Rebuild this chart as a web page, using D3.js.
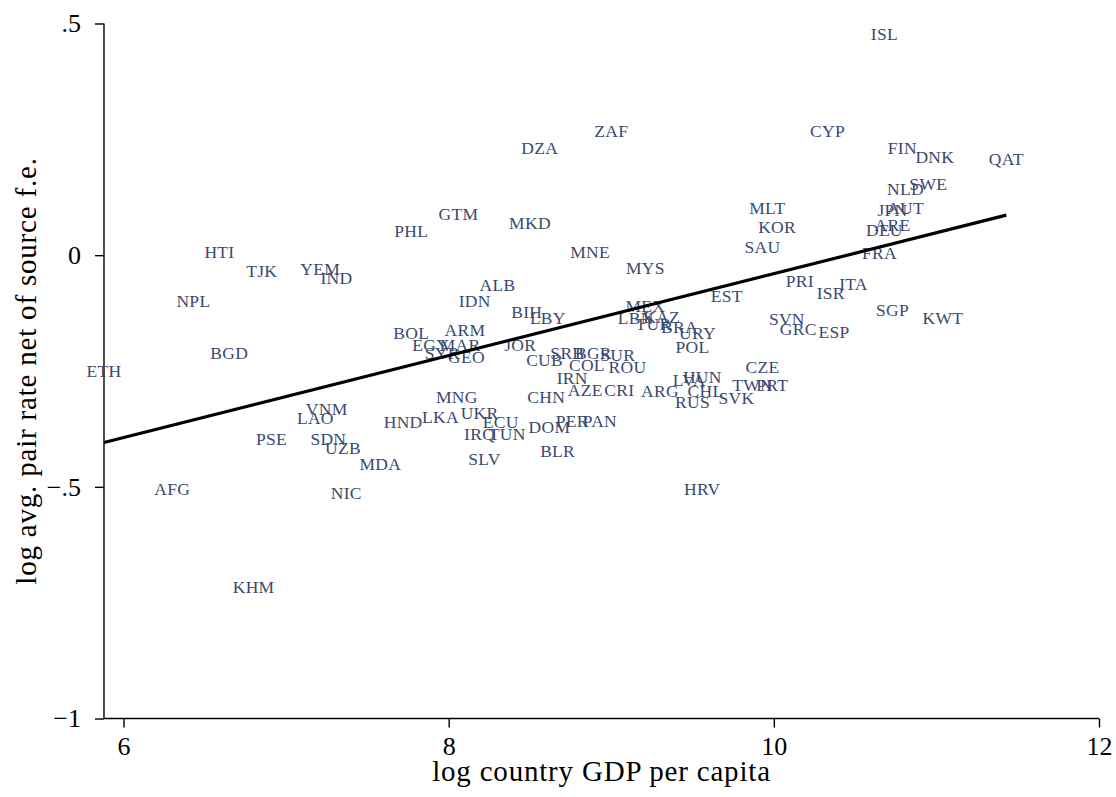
<!DOCTYPE html>
<html>
<head>
<meta charset="utf-8">
<script src="https://cdn.jsdelivr.net/npm/d3@7"></script>
<style>
  html, body { margin: 0; padding: 0; background: #fff; }
  svg { display: block; }
</style>
</head>
<body>
<svg id="chart"></svg>
<script>
// country codes and their values
const codes = [
  "ISL","ZAF","CYP","DZA","FIN","DNK","QAT","SWE","NLD","GTM",
  "MKD","MLT","JPN","AUT","KOR","ARE","DEU","PHL","SAU","FRA",
  "MNE","HTI","TJK","YEM","IND","MYS","ALB","PRI","ITA","ISR",
  "EST","NPL","IDN","MEX","SGP","BIH","LBY","LBN","KAZ","TUR",
  "BRA","SVN","KWT","URY","GRC","ESP","BOL","ARM","POL","JOR",
  "EGY","MAR","SYR","GEO","BGD","CUB","SRB","BGR","SUR","COL",
  "ROU","IRN","ETH","CZE","HUN","LVA","MNG","CHN","AZE","CRI",
  "ARG","CHL","RUS","SVK","TWN","PRT","HND","LKA","UKR","ECU",
  "DOM","PER","PAN","IRQ","TUN","SLV","BLR","VNM","LAO","PSE",
  "SDN","UZB","MDA","AFG","NIC","HRV","KHM"
];
const logGdp = [
  10.68, 9.00, 10.33, 8.56, 10.79, 10.99, 11.43, 10.95, 10.81, 8.06,
  8.50, 9.96, 10.73, 10.81, 10.02, 10.73, 10.68, 7.77, 9.93, 10.65,
  8.87, 6.59, 6.85, 7.21, 7.31, 9.21, 8.30, 10.16, 10.49, 10.35,
  9.71, 6.43, 8.16, 9.21, 10.73, 8.48, 8.61, 9.15, 9.31, 9.26,
  9.42, 10.08, 11.04, 9.53, 10.15, 10.37, 7.77, 8.10, 9.50, 8.44,
  7.89, 8.07, 7.96, 8.11, 6.65, 8.59, 8.73, 8.89, 9.04, 8.85,
  9.10, 8.76, 5.88, 9.93, 9.56, 9.48, 8.05, 8.60, 8.84, 9.05,
  9.30, 9.58, 9.50, 9.77, 9.87, 9.99, 7.72, 7.95, 8.19, 8.32,
  8.62, 8.76, 8.93, 8.19, 8.36, 8.22, 8.67, 7.25, 7.18, 6.91,
  7.26, 7.35, 7.58, 6.30, 7.37, 9.56, 6.80
];
const logRate = [
  0.477, 0.268, 0.268, 0.231, 0.231, 0.212, 0.208, 0.154, 0.143, 0.089,
  0.070, 0.102, 0.098, 0.102, 0.061, 0.065, 0.054, 0.052, 0.018, 0.005,
  0.007, 0.007, -0.034, -0.030, -0.049, -0.028, -0.064, -0.056, -0.062, -0.082,
  -0.088, -0.099, -0.099, -0.110, -0.118, -0.123, -0.136, -0.136, -0.134, -0.149,
  -0.155, -0.138, -0.136, -0.168, -0.159, -0.166, -0.168, -0.161, -0.198, -0.194,
  -0.194, -0.194, -0.211, -0.220, -0.211, -0.226, -0.211, -0.211, -0.216, -0.237,
  -0.241, -0.265, -0.250, -0.241, -0.263, -0.269, -0.306, -0.306, -0.291, -0.291,
  -0.293, -0.293, -0.317, -0.309, -0.280, -0.280, -0.360, -0.349, -0.341, -0.360,
  -0.371, -0.358, -0.358, -0.386, -0.386, -0.440, -0.423, -0.332, -0.351, -0.397,
  -0.397, -0.416, -0.451, -0.505, -0.513, -0.505, -0.716
];

// linear fit
const fitIntercept = -0.924;
const fitSlope = 0.0884;

const xTicks = [6, 8, 10, 12];
const yTicks = [-1, -0.5, 0, 0.5];
const xTitle = "log country GDP per capita";
const yTitle = "log avg. pair rate net of source f.e.";

const width = 1116;
const height = 797;
const serif = "'Liberation Serif', 'DejaVu Serif', serif";
const labelColor = "#3a4a6e";

const svg = d3.select("#chart").attr("width", width).attr("height", height);

const points = codes.map((code, i) => ({ code, x: logGdp[i], y: logRate[i] }));
const xMin = d3.min(points, (d) => d.x);
const xMax = d3.max(points, (d) => d.x);

const x = d3.scaleLinear().domain([6, 12]).range([123.5, 1099]);
const y = d3.scaleLinear().domain([-1, 0.5]).range([718.5, 23.5]);
const axisLeftX = x(xMin);
const axisBottomY = y(-1);

const fmtY = (v) => {
  if (v === 0) return "0";
  const s = Math.abs(v) === 1 ? "1" : String(Math.abs(v)).replace(/^0/, "");
  return (v < 0 ? "\u2212" : "") + s;
};

// y axis
const gy = svg.append("g")
  .attr("transform", `translate(${axisLeftX},0)`)
  .call(d3.axisLeft(y).tickValues(yTicks).tickFormat(fmtY).tickSize(9).tickPadding(14).tickSizeOuter(0));
gy.select(".domain").remove();
gy.append("line")
  .attr("x1", 0).attr("x2", 0)
  .attr("y1", y(0.5)).attr("y2", axisBottomY)
  .attr("stroke", "#000").attr("stroke-width", 1.4);

// x axis
const gx = svg.append("g")
  .attr("transform", `translate(0,${axisBottomY})`)
  .call(d3.axisBottom(x).tickValues(xTicks).tickFormat(d3.format("d")).tickSize(9).tickPadding(9).tickSizeOuter(0));
gx.select(".domain").remove();
gx.append("line")
  .attr("x1", axisLeftX).attr("x2", x(12))
  .attr("y1", 0).attr("y2", 0)
  .attr("stroke", "#000").attr("stroke-width", 1.4);

svg.selectAll(".tick line").attr("stroke", "#000").attr("stroke-width", 1.4);
svg.selectAll(".tick text")
  .attr("font-family", serif)
  .attr("font-size", 26)
  .attr("fill", "#000");

// axis titles
svg.append("text")
  .attr("x", (axisLeftX + x(12)) / 2)
  .attr("y", 781)
  .attr("text-anchor", "middle")
  .attr("font-family", serif)
  .attr("font-size", 29)
  .attr("letter-spacing", 0.8)
  .attr("fill", "#000")
  .text(xTitle);

svg.append("text")
  .attr("transform", `translate(36,${(y(0.5) + axisBottomY) / 2}) rotate(-90)`)
  .attr("text-anchor", "middle")
  .attr("font-family", serif)
  .attr("font-size", 29)
  .attr("letter-spacing", 0.8)
  .attr("fill", "#000")
  .text(yTitle);

// country labels centred on the points
svg.append("g")
  .selectAll("text")
  .data(points)
  .join("text")
  .attr("x", (d) => x(d.x))
  .attr("y", (d) => y(d.y))
  .attr("text-anchor", "middle")
  .attr("dominant-baseline", "central")
  .attr("font-family", serif)
  .attr("font-size", 17.5)
  .attr("letter-spacing", 0.3)
  .attr("fill", labelColor)
  .text((d) => d.code);

// fitted line over the data range
const line = d3.line().x((d) => x(d)).y((d) => y(fitIntercept + fitSlope * d));
svg.append("path")
  .datum([xMin, xMax])
  .attr("d", line)
  .attr("fill", "none")
  .attr("stroke", "#000")
  .attr("stroke-width", 3.2);
</script>
</body>
</html>
